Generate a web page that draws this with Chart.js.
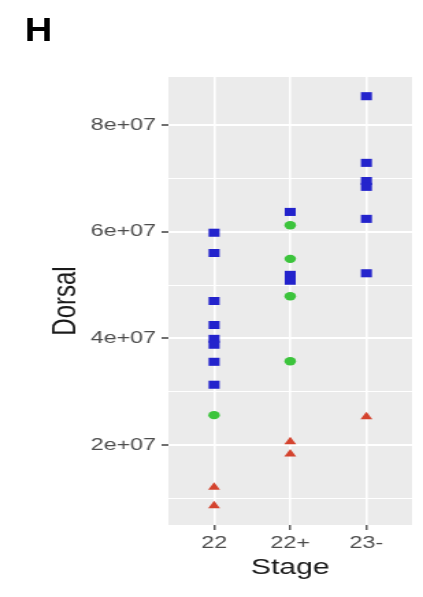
<!DOCTYPE html>
<html>
<head>
<meta charset="utf-8">
<script src="https://cdn.jsdelivr.net/npm/chart.js@4.4.1/dist/chart.umd.min.js"></script>
<style>
  html, body { margin: 0; padding: 0; background: #fff; overflow: hidden; }
  /* the reference is stretched sideways, so the whole figure is drawn narrow and widened */
  #wrap { position: absolute; left: 0; top: 0; width: 309px; height: 597px;
          transform: scaleX(1.369); transform-origin: 0 0; }
  #wrap canvas { display: block; }
  #tag { position: absolute; left: 18px; top: 12px; color: #000;
         font: bold 34px "Liberation Sans", Arial, sans-serif; line-height: 34px;
         transform: scaleX(0.82); transform-origin: 0 0; }
</style>
</head>
<body>
<div id="wrap">
  <canvas id="plot" width="309" height="597"></canvas>
  <div id="tag">H</div>
</div>
<script>
/* ── data ─────────────────────────────────────────────────────────────── */
const STAGES = ['22', '22+', '23-'];

const Y_MAJOR        = [2e7, 4e7, 6e7, 8e7];
const Y_MAJOR_LABELS = ['2e+07', '4e+07', '6e+07', '8e+07'];
const Y_MINOR        = [1e7, 3e7, 5e7, 7e7];

const blueStage  = ['22','22','22','22','22','22','22','22', '22+','22+','22+', '23-','23-','23-','23-','23-','23-'];
const blueDorsal = [5.98e7,5.60e7,4.70e7,4.25e7,3.99e7,3.88e7,3.56e7,3.13e7, 6.37e7,5.19e7,5.08e7, 8.54e7,7.29e7,6.95e7,6.84e7,6.24e7,5.22e7];

const greenStage  = ['22', '22+','22+','22+','22+'];
const greenDorsal = [2.56e7, 6.12e7,5.49e7,4.79e7,3.57e7];

const redStage  = ['22','22', '22+','22+', '23-'];
const redDorsal = [1.21e7,0.86e7, 2.06e7,1.83e7, 2.53e7];

/* ── helpers ─────────────────────────────────────────────────────────── */
const FONT = '"Liberation Sans", Arial, sans-serif';
const pts = (stage, vals) => stage.map((s, i) => ({ x: STAGES.indexOf(s), y: vals[i] }));
const isMajor = v => Y_MAJOR.indexOf(v) >= 0;

/* grey ggplot panel behind the grid */
const panelBg = {
  id: 'panelBg',
  beforeDraw(chart) {
    const { ctx, chartArea: a } = chart;
    ctx.save();
    ctx.fillStyle = '#ebebeb';
    ctx.fillRect(a.left, a.top, a.right - a.left, a.bottom - a.top);
    ctx.restore();
  }
};

new Chart(document.getElementById('plot'), {
  type: 'scatter',
  data: {
    datasets: [
      { label: 'blue',  data: pts(blueStage, blueDorsal),   pointStyle: 'rect',
        pointRadius: 5.7, backgroundColor: '#2323cc', borderWidth: 0 },
      { label: 'green', data: pts(greenStage, greenDorsal), pointStyle: 'circle',
        pointRadius: 4.2, backgroundColor: '#3cc43c', borderWidth: 0 },
      { label: 'red',   data: pts(redStage, redDorsal),     pointStyle: 'triangle',
        pointRadius: 5, backgroundColor: '#d4432e', borderWidth: 0 }
    ]
  },
  options: {
    responsive: false,
    animation: false,
    devicePixelRatio: 1,
    layout: { padding: { top: 77, right: 8, bottom: 0, left: 0 } },
    plugins: { legend: { display: false }, tooltip: { enabled: false } },
    scales: {
      x: {
        type: 'linear',
        min: -0.6,
        max: 2.6,
        afterBuildTicks: s => { s.ticks = STAGES.map((_, i) => ({ value: i })); },
        afterFit: s => { s.height = 72; },
        ticks: {
          callback: v => STAGES[v],
          autoSkip: false, maxRotation: 0,
          font: { family: FONT, size: 17 },
          color: '#4d4d4d',
          padding: 3
        },
        grid: { color: '#ffffff', lineWidth: 1.6, tickLength: 5, tickColor: '#333333', tickWidth: 1.2 },
        border: { display: false },
        title: {
          display: true, text: 'Stage',
          font: { family: FONT, size: 22 }, color: '#1a1a1a',
          padding: { top: 0, bottom: 16 }
        }
      },
      y: {
        type: 'linear',
        min: 0.5e7,
        max: 8.9e7,
        afterBuildTicks: s => {
          s.ticks = Y_MINOR.concat(Y_MAJOR).sort((a, b) => a - b).map(v => ({ value: v }));
        },
        afterFit: s => { s.width = 123; },
        ticks: {
          callback: v => isMajor(v) ? Y_MAJOR_LABELS[Y_MAJOR.indexOf(v)] : '',
          autoSkip: false,
          font: { family: FONT, size: 17 },
          color: '#4d4d4d',
          padding: 4
        },
        grid: {
          color: '#ffffff',
          lineWidth: c => isMajor(c.tick.value) ? 2 : 1,
          tickLength: 5,
          tickColor: c => isMajor(c.tick.value) ? '#333333' : 'rgba(0,0,0,0)',
          tickWidth: 1.4
        },
        border: { display: false },
        title: {
          display: true, text: 'Dorsal',
          font: { family: FONT, size: 24 }, color: '#1a1a1a',
          padding: { top: 34, bottom: 0 }
        }
      }
    }
  },
  plugins: [panelBg]
});
</script>
</body>
</html>
